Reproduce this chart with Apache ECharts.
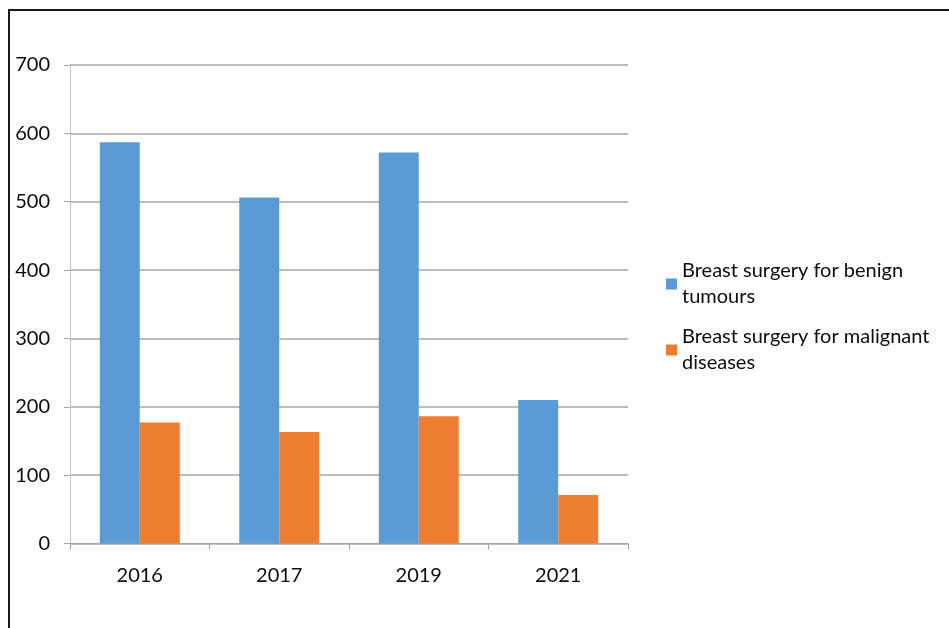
<!DOCTYPE html>
<html>
<head>
<meta charset="utf-8">
<script src="https://cdn.jsdelivr.net/npm/echarts@6/dist/echarts.min.js"></script>
<style>
  html, body { margin: 0; padding: 0; background: #fff; }
  #chart { width: 949px; height: 628px; }
</style>
</head>
<body>
<div id="chart"></div>
<script>
// Breast surgery counts per year
const years = ['2016', '2017', '2019', '2021'];
const benign = [587, 506, 572, 210];
const malignant = [177, 163, 186, 71];
const seriesNames = ['Breast surgery for benign\ntumours', 'Breast surgery for malignant\ndiseases'];
const yTicks = { min: 0, max: 700, interval: 100 };

const font = 'Lato, "Open Sans", sans-serif';
const chart = echarts.init(document.getElementById('chart'), null, { renderer: 'canvas' });

function legendFor(name, top) {
  return {
    data: [name],
    left: 661,
    top: top,
    orient: 'vertical',
    icon: 'rect',
    itemWidth: 11,
    itemHeight: 11,
    selectedMode: false,
    textStyle: {
      fontFamily: font,
      fontSize: 20,
      color: '#0d0d0d',
      lineHeight: 26,
      padding: [26, 0, 0, 0]
    }
  };
}

chart.setOption({
  animation: false,
  graphic: [{
    type: 'rect',
    shape: { x: 9, y: 10, width: 1000, height: 700 },
    style: { fill: 'none', stroke: '#1a1a1a', lineWidth: 2 },
    silent: true,
    z: 100
  }],
  legend: [legendFor(seriesNames[0], 240), legendFor(seriesNames[1], 306)],
  grid: { left: 70, right: 321, top: 65, bottom: 84.5, containLabel: false },
  xAxis: {
    type: 'category',
    data: years,
    axisLine: { lineStyle: { color: '#a6a6a6', width: 1 } },
    axisTick: { show: true, length: 6, lineStyle: { color: '#a6a6a6' } },
    axisLabel: { fontFamily: font, fontSize: 20, color: '#0d0d0d', margin: 22 }
  },
  yAxis: {
    type: 'value',
    min: yTicks.min,
    max: yTicks.max,
    interval: yTicks.interval,
    axisLine: { show: true, lineStyle: { color: '#c4c4c4', width: 1 } },
    axisTick: { show: true, length: 6, lineStyle: { color: '#a6a6a6' } },
    axisLabel: { fontFamily: font, fontSize: 20, color: '#0d0d0d', margin: 20 },
    splitLine: { lineStyle: { color: '#a6a6a6', width: 1.5 } }
  },
  series: [
    {
      name: seriesNames[0],
      type: 'bar',
      data: benign,
      barWidth: 40,
      barGap: '0%',
      itemStyle: { color: '#5B9BD5' }
    },
    {
      name: seriesNames[1],
      type: 'bar',
      data: malignant,
      barWidth: 40,
      barGap: '0%',
      itemStyle: { color: '#ED7D31' }
    }
  ]
});
</script>
</body>
</html>
